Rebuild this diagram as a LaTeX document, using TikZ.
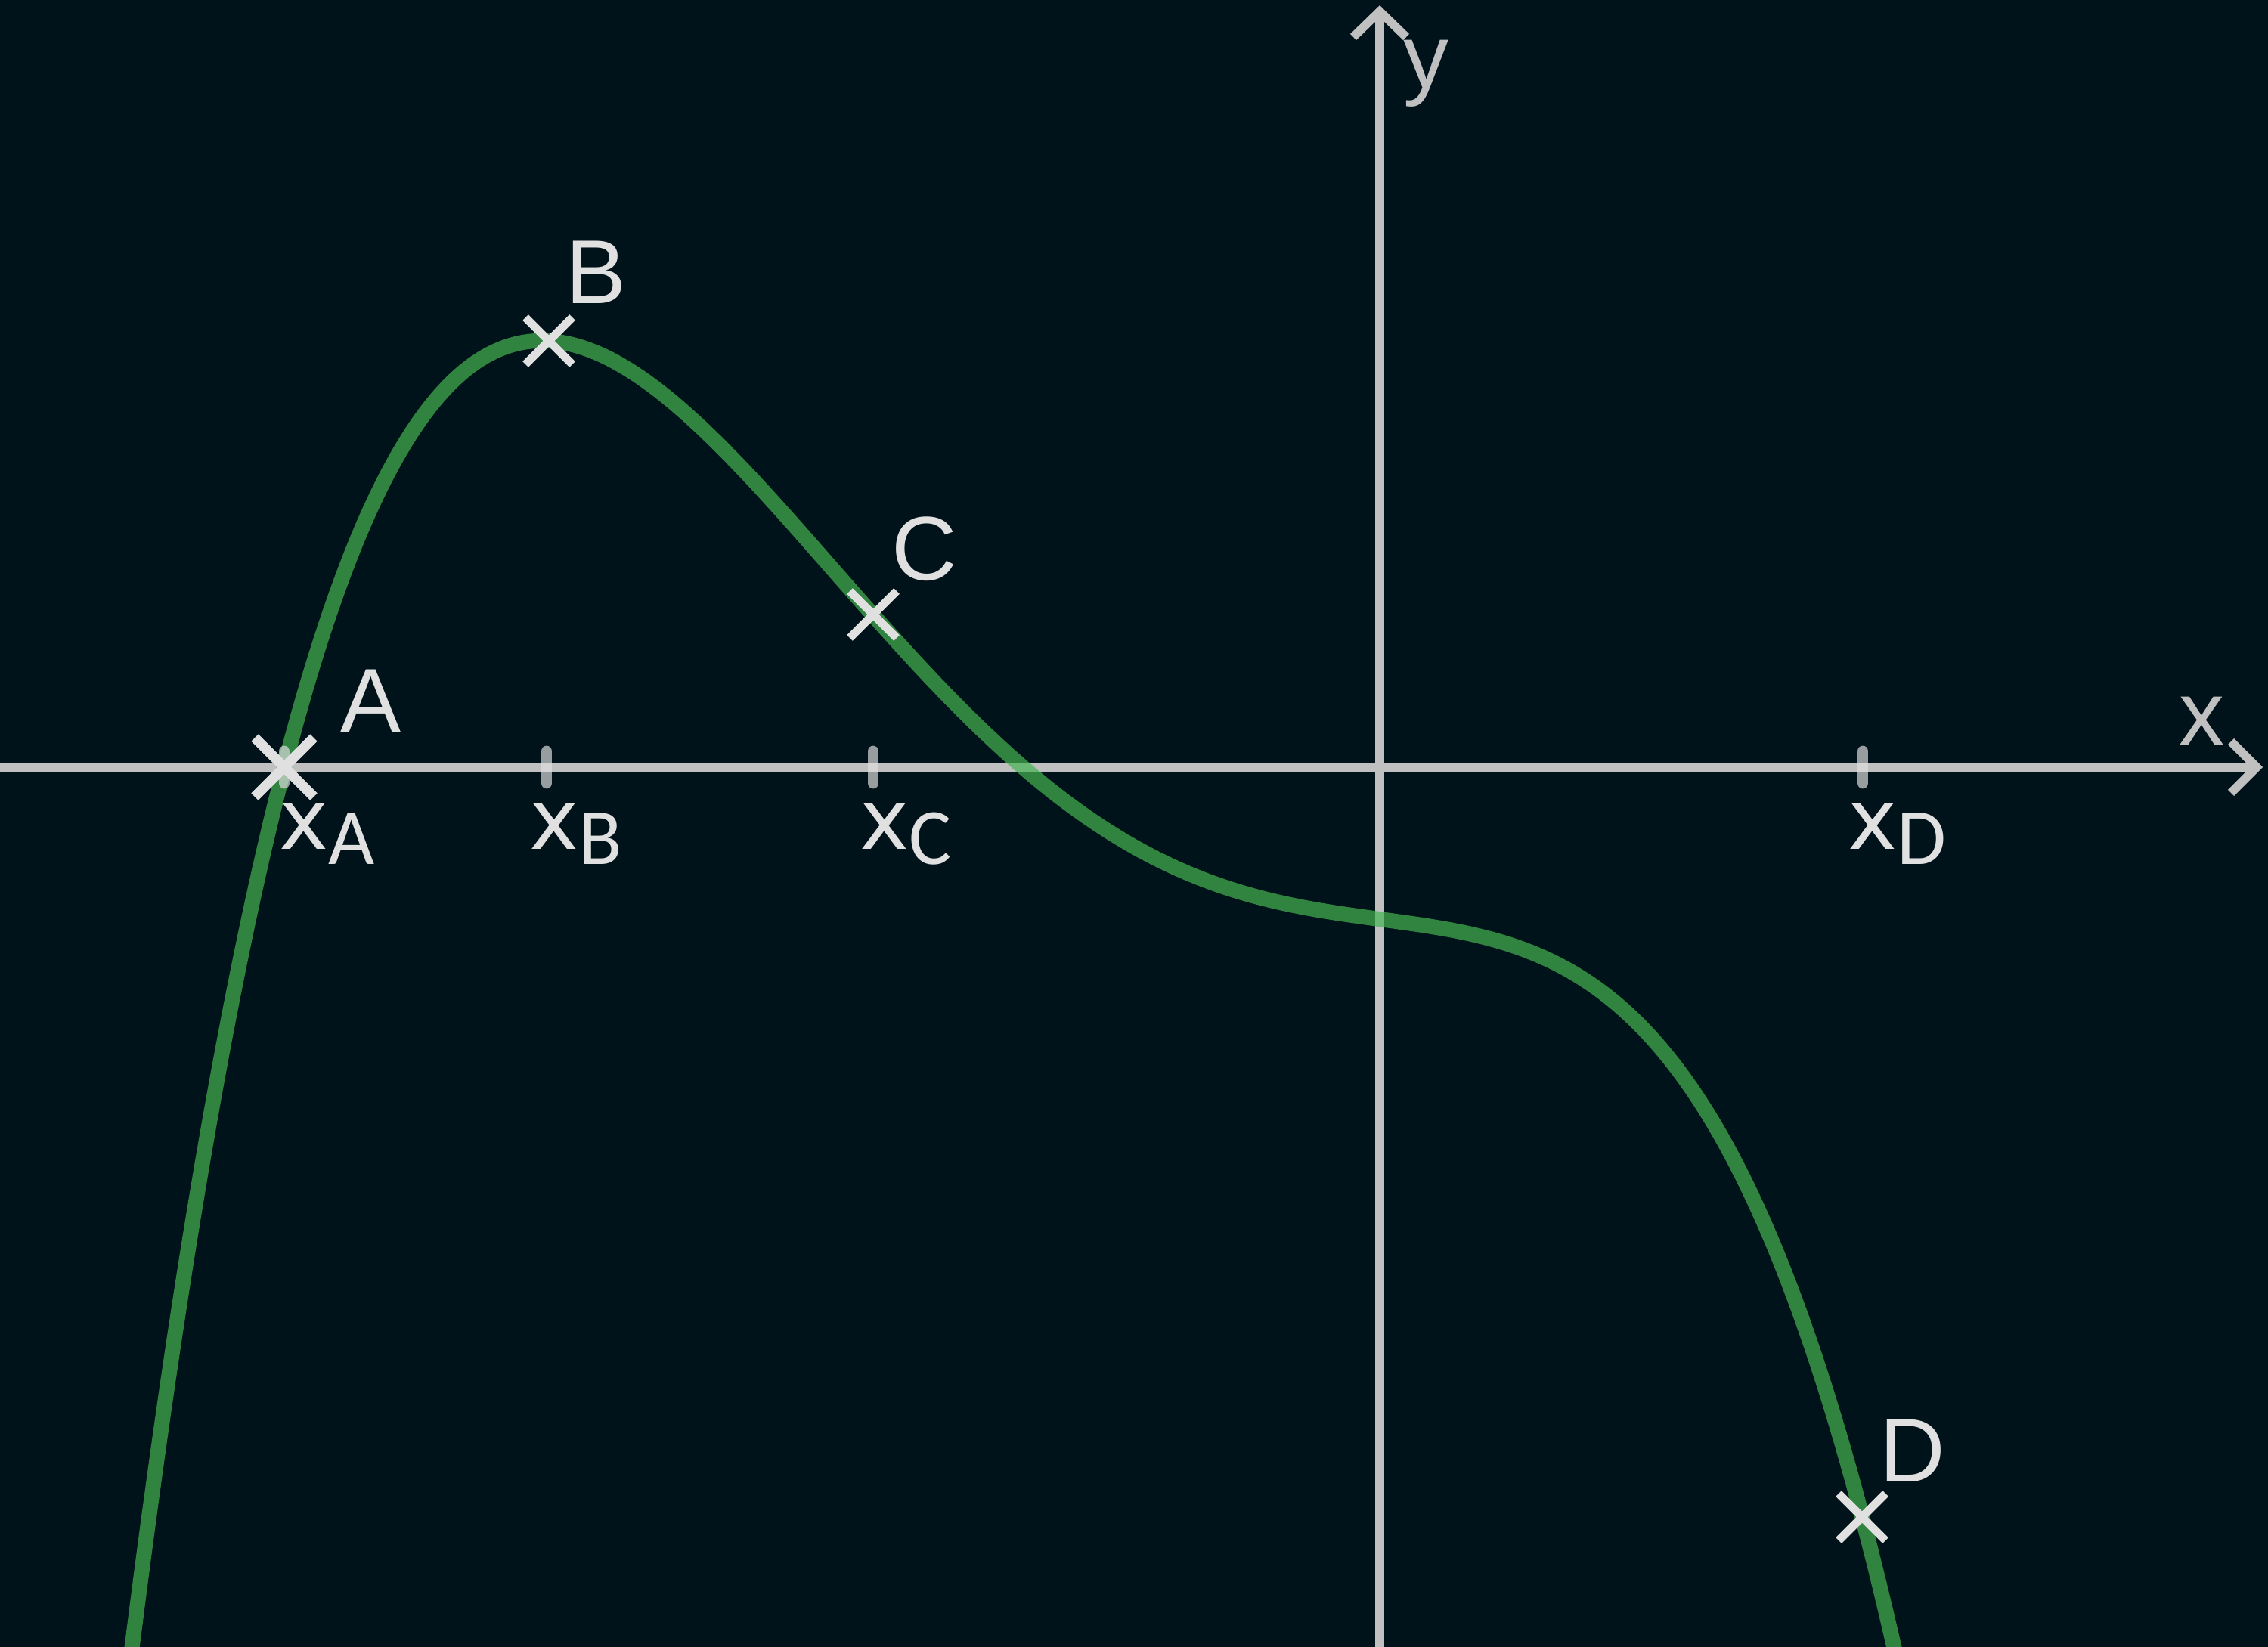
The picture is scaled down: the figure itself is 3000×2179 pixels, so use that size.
\documentclass[tikz,border=0pt]{standalone}
\usepackage{fontspec}
\setmainfont{Liberation Sans}
\newfontfamily\subrowfont{Carlito}
\newfontfamily\xrowfont{DejaVu Sans}
\definecolor{bgc}{RGB}{1,19,26}
\definecolor{axc}{RGB}{192,192,192}
\definecolor{txc}{RGB}{224,224,224}
\definecolor{crv}{RGB}{68,180,81}
\newcommand{\tickname}[1]{x\raisebox{-0.2cm}{\subrowfont\fontsize{30pt}{32pt}\selectfont #1}}
\begin{document}
\begin{tikzpicture}[x=0.01cm,y=-0.01cm,
  axisline/.style={draw=axc, line width=3.25pt, miter limit=10},
  curveline/.style={draw=crv, draw opacity=0.7, line width=5.7pt, line join=round},
  tickmark/.style={draw=txc, draw opacity=0.68, line width=4.2pt, line cap=round},
  crossmark/.style={draw=txc, line width=3.1pt},
  bigcrossmark/.style={draw=txc, line width=3.8pt},
  ptlabel/.style={text=txc, inner sep=0pt, anchor=base west, font=\fontsize{34.1pt}{40pt}\selectfont},
  axlabel/.style={text=axc, inner sep=0pt, anchor=base west, font=\fontsize{34.1pt}{40pt}\selectfont},
  sublabel/.style={text=txc, inner sep=0pt, anchor=base west, font=\xrowfont\fontsize{31.3pt}{36pt}\selectfont},
  xcross/.pic={\draw[crossmark] (-31,-31) -- (31,31) (-31,31) -- (31,-31);},
  bigxcross/.pic={\draw[bigcrossmark] (-39,-39) -- (39,39) (-39,39) -- (39,-39);}
]
\fill[bgc] (0,0) rectangle (3000,2179);
\useasboundingbox (0,0) rectangle (3000,2179);

% axes
\coordinate (xstart) at (0,1015);
\coordinate (xtip) at (2985,1015);
\coordinate (ystart) at (1825,2179);
\coordinate (ytip) at (1825,15);
\draw[axisline] (xstart) -- (xtip);
\draw[axisline] (xtip) ++(-34,-34) -- (xtip) -- ++(-34,34);
\draw[axisline] (ystart) -- (ytip);
\draw[axisline] (ytip) ++(-35,34) -- (ytip) -- ++(35,34);
\node[axlabel] (xlab) at (2882,985) {x};
\node[axlabel] (ylab) at (1856,117) {y};

% curve: quartic through A, B (max), C, D
\begin{scope}
\clip (0,0) rectangle (3000,2179);
\draw[curveline] plot[domain=-1.665:0.69, samples=240, smooth, variable=\u]
  ({1825+1000*\u}, {1015+1000*((\u+1.449)*(\u+0.472)*(1.313*\u*\u-0.628*\u+0.294))});
\end{scope}

% ticks
\coordinate (tA) at (376,1015);
\coordinate (tB) at (723,1015);
\coordinate (tC) at (1155,1015);
\coordinate (tD) at (2464,1015);
\foreach \t in {tA,tB,tC,tD}{\draw[tickmark] (\t) ++(0,-21) -- ++(0,42);}

% points
\coordinate (pA) at (376,1015);
\coordinate (pB) at (726,451);
\coordinate (pC) at (1155,813);
\coordinate (pD) at (2463,2007);
\pic at (pA) {bigxcross};
\pic at (pB) {xcross};
\pic at (pC) {xcross};
\pic at (pD) {xcross};

% point labels
\node[ptlabel] (lA) at (450,968) {A};
\node[ptlabel] (lB) at (748,402) {B};
\node[ptlabel] (lC) at (1179,767) {C};
\node[ptlabel] (lD) at (2486,1960) {D};

% tick labels
\node[sublabel] (sA) at (369,1123) {\tickname{A}};
\node[sublabel] (sB) at (700,1123) {\tickname{B}};
\node[sublabel] (sC) at (1137,1123) {\tickname{C}};
\node[sublabel] (sD) at (2444,1123) {\tickname{D}};
\end{tikzpicture}
\end{document}
